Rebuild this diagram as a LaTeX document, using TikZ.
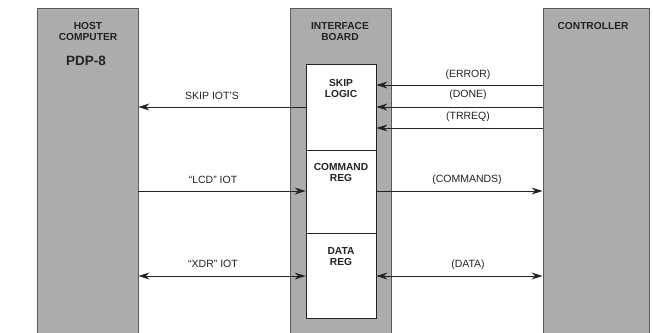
\documentclass[tikz,border=0pt]{standalone}
\usepackage{fontspec}
\setmainfont{Liberation Sans}
\usetikzlibrary{arrows.meta}
\definecolor{boxgray}{RGB}{172,172,172}
\definecolor{edgegray}{RGB}{90,90,90}
\definecolor{inkc}{RGB}{35,35,35}
\tikzset{
  gbox/.style={rectangle, fill=boxgray, draw=edgegray, line width=0.9pt, inner sep=0pt},
  wbox/.style={rectangle, fill=white, draw=inkc, line width=0.8pt, inner sep=0pt},
  hdr/.style={font=\fontsize{10.2}{11}\selectfont\bfseries, text=inkc, align=center, inner sep=0pt},
  lbl/.style={font=\fontsize{10.5}{12}\selectfont, text=inkc, inner sep=0pt, anchor=base},
  arr/.style={draw=inkc, line width=0.9pt, -{Stealth[length=11pt,width=7pt]}},
  darr/.style={draw=inkc, line width=0.9pt, {Stealth[length=11pt,width=7pt]}-{Stealth[length=11pt,width=7pt]}},
  divl/.style={draw=inkc, line width=0.7pt}
}
\begin{document}
\begin{tikzpicture}[x=1pt,y=-1pt]
\useasboundingbox (0,0) rectangle (653,332);
\clip (0,0) rectangle (653,332);
\fill[white] (0,0) rectangle (653,332);
% main boxes (open at the bottom edge)
\node[gbox, minimum width=101pt, minimum height=340pt] (host) at (87.5,178) {};
\node[gbox, minimum width=101pt, minimum height=340pt] (board) at (340.5,178) {};
\node[gbox, minimum width=106pt, minimum height=340pt] (ctrl) at (596,178) {};
\node[wbox, minimum width=70pt, minimum height=254pt] (inner) at (341,191) {};
% dividers inside the inner box
\coordinate (d1) at (0,150);
\coordinate (d2) at (0,233);
\draw[divl] (inner.west |- d1) -- (inner.east |- d1);
\draw[divl] (inner.west |- d2) -- (inner.east |- d2);
% headings
\node[hdr] (thost) at (88,31.5) {HOST\\COMPUTER};
\node[hdr, font=\fontsize{13.5}{14}\selectfont\bfseries] (tpdp) at (86,60.5) {PDP-8};
\node[hdr] (tboard) at (340,31.5) {INTERFACE\\BOARD};
\node[hdr] (tctrl) at (593,26) {CONTROLLER};
\node[hdr] (tskip) at (341,88.5) {SKIP\\LOGIC};
\node[hdr] (tcmd) at (341,172) {COMMAND\\REG};
\node[hdr] (tdata) at (341,256.5) {DATA\\REG};
% arrow levels
\coordinate (ySkip) at (0,107);
\coordinate (yErr) at (0,85);
\coordinate (yDone) at (0,107);
\coordinate (yTrr) at (0,128);
\coordinate (yCmd) at (0,191);
\coordinate (yDat) at (0,276);
% connectors
\draw[arr] (inner.west |- ySkip) -- (host.east |- ySkip);
\draw[arr] (ctrl.west |- yErr) -- (inner.east |- yErr);
\draw[arr] (ctrl.west |- yDone) -- (inner.east |- yDone);
\draw[arr] (ctrl.west |- yTrr) -- (inner.east |- yTrr);
\draw[arr] (host.east |- yCmd) -- (inner.west |- yCmd);
\draw[arr] (inner.east |- yCmd) -- (ctrl.west |- yCmd);
\draw[darr] (host.east |- yDat) -- (inner.west |- yDat);
\draw[darr] (inner.east |- yDat) -- (ctrl.west |- yDat);
% labels
\node[lbl] (lskip) at (212,99) {SKIP IOT’S};
\node[lbl] (lerr) at (468,77) {(ERROR)};
\node[lbl] (ldone) at (468,97.5) {(DONE)};
\node[lbl] (ltrr) at (468,119) {(TRREQ)};
\node[lbl] (llcd) at (213,183) {“LCD” IOT};
\node[lbl] (lcmds) at (467,182) {(COMMANDS)};
\node[lbl] (lxdr) at (213,267) {“XDR” IOT};
\node[lbl] (ldat) at (468,267) {(DATA)};
\end{tikzpicture}
\end{document}
